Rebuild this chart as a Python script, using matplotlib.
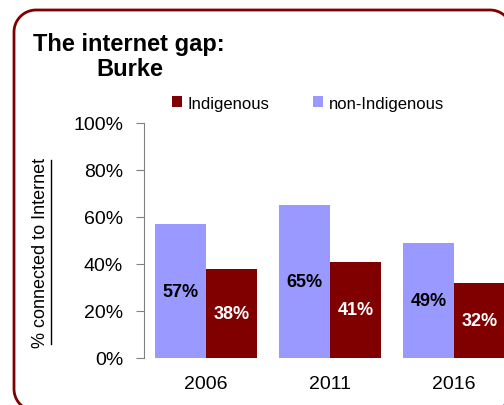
import numpy as np
import matplotlib.pyplot as plt
from matplotlib.ticker import PercentFormatter

years = ["2006", "2011", "2016"]
indigenous = [38, 41, 32]
non_indigenous = [57, 65, 49]

LAVENDER = "#9999ff"
MAROON = "#800000"

plt.rcParams["font.family"] = ["Liberation Sans", "DejaVu Sans"]

W, H = 504, 406
fig = plt.figure(figsize=(W / 100, H / 100), dpi=100)


def rounded_box(x0, y0, x1, y1, r):
    """outline of a rounded rectangle, in pixel units"""
    xs, ys = [], []
    corners = [(x1 - r, y1 - r, 0), (x0 + r, y1 - r, 90),
               (x0 + r, y0 + r, 180), (x1 - r, y0 + r, 270)]
    for cx, cy, a0 in corners:
        t = np.deg2rad(np.linspace(a0, a0 + 90, 20))
        xs.extend(cx + r * np.cos(t))
        ys.extend(cy + r * np.sin(t))
    xs.append(xs[0])
    ys.append(ys[0])
    return xs, ys


# background axes in pixel units for the border
bg = fig.add_axes([0, 0, 1, 1])
bg.set_xlim(0, W)
bg.set_ylim(0, H)
bg.axis("off")
bx, by = rounded_box(14, -6, 512, H - 11, 22)
bg.plot(bx, by, color=MAROON, linewidth=2, clip_on=False)

ax = fig.add_axes([144 / W, 47 / H, 372 / W, 235 / H])

x = np.arange(len(years))
w = 0.41
b1 = ax.bar(x - w / 2, non_indigenous, w, color=LAVENDER, label="non-Indigenous")
b2 = ax.bar(x + w / 2, indigenous, w, color=MAROON, label="Indigenous")

for rect, v in zip(b1, non_indigenous):
    ax.text(rect.get_x() + rect.get_width() / 2, v / 2, f"{v}%",
            ha="center", va="center", fontsize=13, fontweight="bold", color="black")
for rect, v in zip(b2, indigenous):
    ax.text(rect.get_x() + rect.get_width() / 2, v / 2, f"{v}%",
            ha="center", va="center", fontsize=13, fontweight="bold", color="white")

ax.set_xlim(-0.5, 2.5)
ax.set_ylim(0, 100)
ax.set_yticks(np.arange(0, 101, 20))
ax.yaxis.set_major_formatter(PercentFormatter(decimals=0))
ax.set_xticks(x)
ax.set_xticklabels(years)
ax.tick_params(axis="x", length=0, pad=12, labelsize=14)
ax.tick_params(axis="y", length=6, color="#808080", labelsize=14, pad=9)
for s in ["top", "right", "bottom"]:
    ax.spines[s].set_visible(False)
ax.spines["left"].set_color("#808080")

# legend, Indigenous first
leg = fig.legend([b2, b1], ["Indigenous", "non-Indigenous"], loc="center left",
                 bbox_to_anchor=(172 / W, 1 - 104 / H), ncol=2, frameon=False,
                 handlelength=0.6, handleheight=0.6, handletextpad=0.35,
                 columnspacing=2.6, borderaxespad=0, borderpad=0,
                 prop={"size": 12})

fig.text(33 / W, 1 - 44 / H, "The internet gap:", fontsize=17,
         fontweight="bold", va="center", ha="left")
fig.text(96 / W, 1 - 70 / H, "Burke", fontsize=17,
         fontweight="bold", va="center", ha="left")

fig.text(41 / W, 1 - 253 / H, "% connected to Internet", rotation=90,
         fontsize=13, va="center", ha="center")
fig.add_artist(plt.Line2D([51 / W, 51 / W], [1 - 345 / H, 1 - 161 / H],
                          color="black", linewidth=1, transform=fig.transFigure))

fig.savefig("out.png", dpi=100)
